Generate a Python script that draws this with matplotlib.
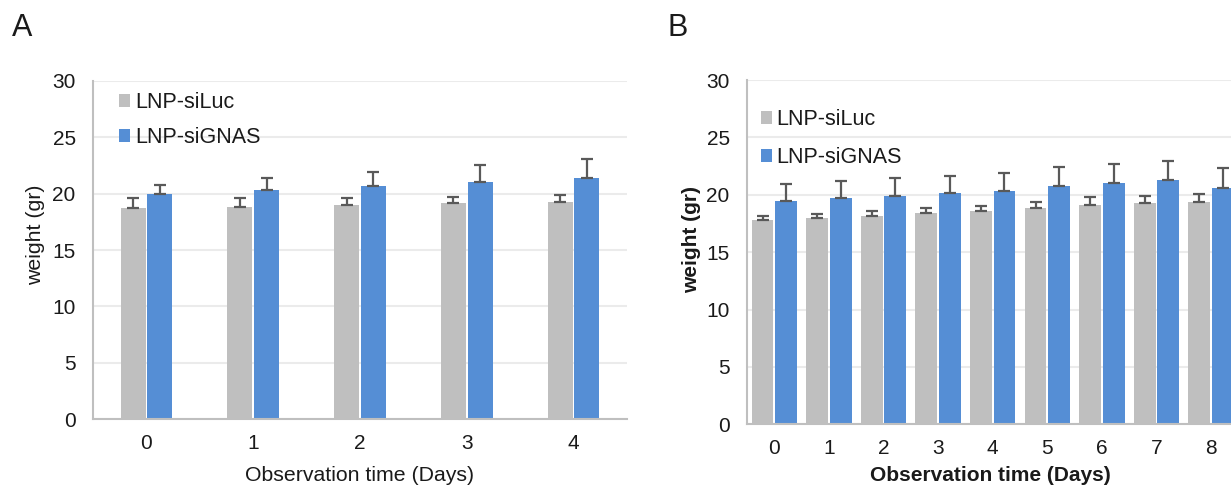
import matplotlib
matplotlib.use("Agg")
import matplotlib.pyplot as plt
from matplotlib.patches import Patch
import numpy as np

plt.rcParams['font.family'] = ['Liberation Sans', 'DejaVu Sans']

# ---- data ----
days_a = ["0", "1", "2", "3", "4"]
siluc_a = [18.71, 18.85, 18.98, 19.12, 19.27]
siluc_a_err = [0.91, 0.74, 0.64, 0.59, 0.64]
signas_a = [19.95, 20.30, 20.65, 21.03, 21.39]
signas_a_err = [0.82, 1.06, 1.26, 1.48, 1.70]

days_b = ["0", "1", "2", "3", "4", "5", "6", "7", "8"]
siluc_b = [17.79, 17.96, 18.16, 18.40, 18.60, 18.88, 19.14, 19.27, 19.41]
siluc_b_err = [0.40, 0.40, 0.41, 0.43, 0.46, 0.53, 0.68, 0.66, 0.67]
signas_b = [19.47, 19.70, 19.93, 20.14, 20.37, 20.80, 21.04, 21.30, 20.58]
signas_b_err = [1.48, 1.51, 1.52, 1.53, 1.57, 1.63, 1.65, 1.66, 1.74]

series_names = ["LNP-siLuc", "LNP-siGNAS"]
yticks = [0, 5, 10, 15, 20, 25, 30]

GRAY = "#BFBFBF"
BLUE = "#558ED5"
ERR = "#595959"
GRID = "#EBEBEB"
SPINE = "#BFBFBF"
TXT = "#1a1a1a"

W, H = 1231, 490
fig = plt.figure(figsize=(W / 100, H / 100), dpi=100)


def px_axes(left, right, top, bottom):
    return fig.add_axes([left / W, (H - bottom) / H, (right - left) / W, (bottom - top) / H])


def draw(ax, cats, s1, e1, s2, e2, width, off, xlim, bold, leg_anchor, leg_space,
         ylab_xy, xlab_xy, lab_size):
    x = np.arange(len(cats))
    ax.bar(x - off, s1, width, color=GRAY, zorder=2, label=series_names[0])
    ax.bar(x + off, s2, width, color=BLUE, zorder=2, label=series_names[1])
    ax.errorbar(x - off, s1, yerr=[np.zeros(len(e1)), e1], fmt='none', ecolor=ERR,
                elinewidth=1.6, capsize=4.5, capthick=1.6, zorder=3)
    ax.errorbar(x + off, s2, yerr=[np.zeros(len(e2)), e2], fmt='none', ecolor=ERR,
                elinewidth=1.6, capsize=4.5, capthick=1.6, zorder=3)
    ax.set_ylim(0, 30)
    ax.set_xlim(*xlim)
    ax.set_yticks(yticks)
    ax.set_xticks(x)
    ax.set_xticklabels(cats)
    ax.yaxis.grid(True, color=GRID, linewidth=1.5, zorder=0)
    ax.set_axisbelow(True)
    for s in ["top", "right"]:
        ax.spines[s].set_visible(False)
    for s in ["left", "bottom"]:
        ax.spines[s].set_color(SPINE)
        ax.spines[s].set_linewidth(1.5)
    ax.tick_params(axis='both', length=0, labelsize=15, colors=TXT)
    ax.tick_params(axis='y', pad=12.5)
    ax.tick_params(axis='x', pad=10.5)
    fw = 'bold' if bold else 'normal'
    ax.set_ylabel("weight (gr)", fontsize=lab_size, fontweight=fw, color=TXT)
    ax.set_xlabel("Observation time (Days)", fontsize=lab_size, fontweight=fw, color=TXT)
    ax.yaxis.label.set_va('center')
    ax.xaxis.label.set_va('center')
    ax.yaxis.set_label_coords(*ylab_xy)
    ax.xaxis.set_label_coords(*xlab_xy)
    handles = [Patch(facecolor=GRAY), Patch(facecolor=BLUE)]
    ax.legend(handles, series_names, loc='upper left', bbox_to_anchor=leg_anchor,
              frameon=False, fontsize=15.5, handlelength=0.55, handleheight=0.55,
              handletextpad=0.2, labelspacing=leg_space, borderpad=0, borderaxespad=0,
              labelcolor=TXT)


axA = px_axes(93, 627, 80.7, 419.3)
draw(axA, days_a, siluc_a, siluc_a_err, signas_a, signas_a_err,
     width=0.235, off=0.125, xlim=(-0.5, 4.5), bold=False,
     leg_anchor=(0.048, 0.966), leg_space=0.65,
     ylab_xy=(-0.107, 0.544), xlab_xy=(0.5, -0.167), lab_size=15.3)

catB = 54.6
axB = px_axes(747, W, 80, 424.3)
draw(axB, days_b, siluc_b, siluc_b_err, signas_b, signas_b_err,
     width=0.40, off=0.215, xlim=(-0.5, -0.5 + (W - 747) / catB), bold=True,
     leg_anchor=(0.028, 0.916), leg_space=0.78,
     ylab_xy=(-0.114, 0.538), xlab_xy=(0.502, -0.150), lab_size=15)

fig.text(12 / W, 1 - 36 / H, "A", fontsize=22, color=TXT)
fig.text(668 / W, 1 - 36 / H, "B", fontsize=22, color=TXT)

fig.savefig("out.png", dpi=100)
